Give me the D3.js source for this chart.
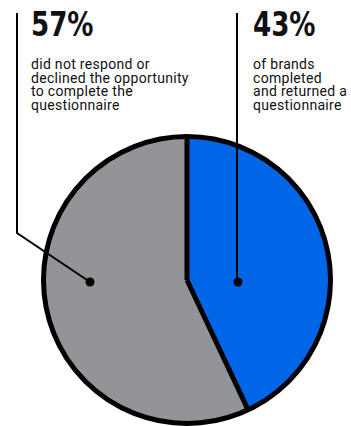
<!DOCTYPE html>
<html>
<head>
<meta charset="utf-8">
<script src="https://cdn.jsdelivr.net/npm/d3@7"></script>
<style>
  html, body { margin: 0; padding: 0; background: #fff; }
  .big { font-family: "DejaVu Sans Condensed", "DejaVu Sans", sans-serif; font-weight: bold; font-size: 33px; fill: #111; }
  .note { font-family: Roboto, "Noto Sans", sans-serif; font-size: 14px; letter-spacing: 0.3px; fill: #111; }
</style>
</head>
<body>
<svg id="chart" width="351" height="426"></svg>
<script>
// share of brands (percent), clockwise from 12 o'clock
var categories = ['completed', 'no response'];
var values = [43, 57];
var percentLabels = ['43%', '57%'];
var notes = [
  ['of brands', 'completed', 'and returned a', 'questionnaire'],
  ['did not respond or', 'declined the opportunity', 'to complete the', 'questionnaire']
];
var colors = ['#0066e8', '#939497'];

var svg = d3.select('#chart');
var cx = 187, cy = 280, r = 143.5;

var pie = d3.pie().sort(null).value(function(d) { return d; });
var arc = d3.arc().innerRadius(0).outerRadius(r);
var arcs = pie(values);

var g = svg.append('g').attr('transform', 'translate(' + cx + ',' + cy + ')');

// slices
g.selectAll('path.slice')
  .data(arcs)
  .enter().append('path')
  .attr('class', 'slice')
  .attr('d', arc)
  .attr('fill', function(d, i) { return colors[i]; });

// dividing lines
g.selectAll('line.div')
  .data(arcs)
  .enter().append('line')
  .attr('x1', 0).attr('y1', 0)
  .attr('x2', function(d) { return r * Math.sin(d.startAngle); })
  .attr('y2', function(d) { return -r * Math.cos(d.startAngle); })
  .attr('stroke', '#000')
  .attr('stroke-width', 5);

g.append('circle')
  .attr('r', r)
  .attr('fill', 'none')
  .attr('stroke', '#000')
  .attr('stroke-width', 5);

// leader lines from the text columns down to a dot in each slice
var leaders = [
  { dot: [238, 282], pts: [[237, 13], [237, 282]], text: 253 },
  { dot: [90, 282], pts: [[17, 13], [17, 233], [90, 282]], text: 31 }
];

var line = d3.line();
leaders.forEach(function(l, i) {
  svg.append('path')
    .attr('d', line(l.pts))
    .attr('fill', 'none')
    .attr('stroke', '#000')
    .attr('stroke-width', 2);
  svg.append('circle')
    .attr('cx', l.dot[0]).attr('cy', l.dot[1])
    .attr('r', 4.5)
    .attr('fill', '#000');

  // condensed headline number
  svg.append('text')
    .attr('class', 'big')
    .attr('transform', 'translate(' + l.text + ',36) scale(0.88,1)')
    .text(percentLabels[i]);

  svg.append('text')
    .attr('class', 'note')
    .selectAll('tspan')
    .data(notes[i])
    .enter().append('tspan')
    .attr('x', l.text)
    .attr('y', function(d, j) { return 69 + j * 13.5; })
    .text(function(d) { return d; });
});
</script>
</body>
</html>
